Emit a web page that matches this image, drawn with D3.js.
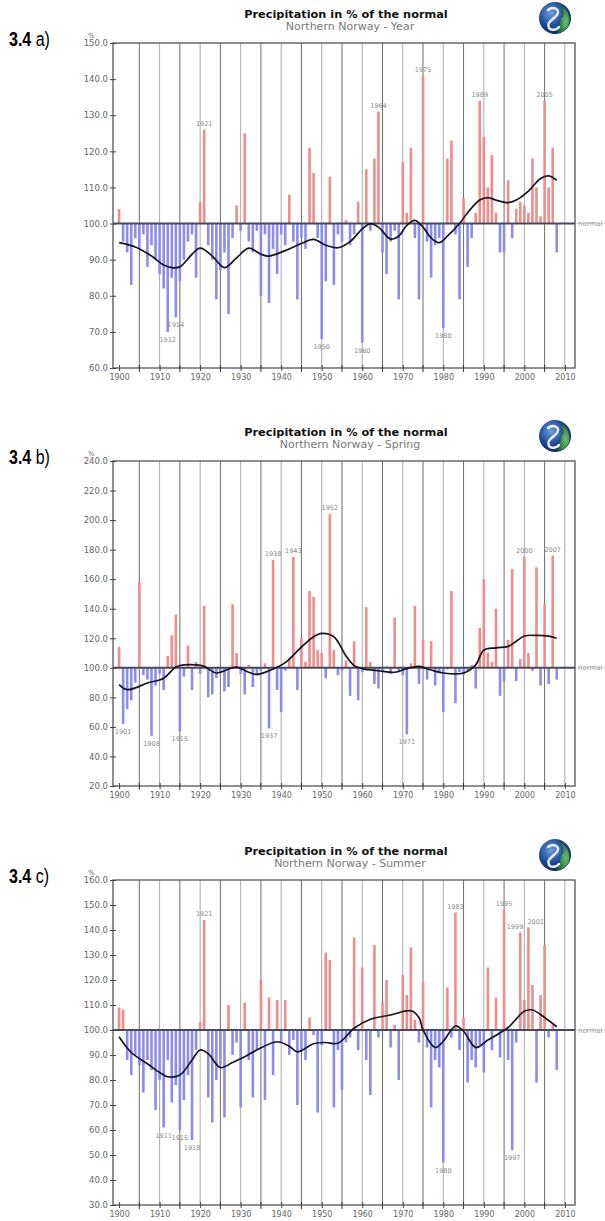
<!DOCTYPE html>
<html><head><meta charset="utf-8">
<script src="https://cdn.jsdelivr.net/npm/d3@7"></script>
<style>body{margin:0;background:#fff}svg{display:block}</style>
</head><body>
<svg id="chart" width="605" height="1221"></svg>
<script>
// ---------------- DATA ----------------
const years = d3.range(1900, 2009);

const yearValues = [
104,95,92,83,96,93,97,88,94,90,
86,82,70,85,74,84,90,95,97,85,
106,126,94,90,79,87,92,75,96,105,
98,125,95,92,98,80,97,78,93,86,
97,94,108,95,79,96,93,121,114,96,
68,84,113,83,97,95,101,94,97,106,
67,115,98,118,131,92,86,95,98,79,
117,103,121,96,79,141,95,85,94,96,
71,118,123,97,79,107,88,96,103,134,
124,110,119,103,92,92,112,96,104,106,
105,103,118,110,102,134,110,121,92];

const springValues = [
114,62,72,78,90,158,95,92,54,88,
96,85,108,122,136,57,94,115,85,104,
96,142,80,82,93,97,84,87,143,110,
96,82,102,87,95,98,103,59,173,85,
70,98,106,175,85,120,104,152,148,112,
110,93,204,112,95,98,105,81,118,78,
97,141,104,89,86,98,101,96,134,97,
95,55,103,142,89,119,92,118,88,97,
70,99,152,76,97,95,98,102,86,127,
160,110,104,140,81,91,119,167,91,106,
175,110,98,168,88,143,89,176,92];

const summerValues = [
109,108,88,82,90,86,75,88,84,68,
80,61,88,71,78,60,72,82,56,92,
103,144,73,63,80,86,65,110,90,95,
69,111,88,73,92,120,72,113,82,112,
95,112,90,96,70,92,88,105,98,67,
94,131,128,69,92,76,95,97,137,92,
125,88,74,134,97,111,120,93,102,80,
122,114,133,104,95,119,93,69,88,85,
47,117,97,147,92,105,79,88,85,94,
83,125,92,113,89,148,88,52,95,139,
112,141,118,79,114,134,97,102,84];

// smoothed curves: [year, value]
const yearSmooth = [[1900,94.7],[1904,93.5],[1908,91],[1911,88.5],[1913,87.8],[1915,88],[1918,91.5],[1920,93.2],[1923,91],[1926,87.8],[1929,90.5],[1932,93.2],[1935,91.5],[1937,91],[1941,92.5],[1945,94.5],[1948,95.6],[1951,94],[1954,93.3],[1957,95],[1960,98.5],[1962,100],[1964,99],[1967,95.7],[1969,96.5],[1971,99.5],[1973,100.9],[1975,99],[1977,96],[1979,94.7],[1981,96.5],[1984,100],[1986,103],[1989,106.5],[1991,107.2],[1993,106.5],[1996,105.8],[1998,106.5],[2001,109],[2004,112.5],[2006,113.2],[2008,112]];
const springSmooth = [[1900,88.6],[1902,85.2],[1907,89.7],[1911,93],[1914,100.5],[1916,102],[1919,102],[1921,101],[1924,96.5],[1927,99],[1929,100.5],[1932,97],[1934,95.5],[1937,98],[1939,100.5],[1941,103.5],[1945,114],[1948,121],[1950,123.3],[1953,121],[1956,108],[1958,101.5],[1960,99.5],[1964,98],[1968,97],[1971,99.5],[1974,101],[1977,98.5],[1980,96.5],[1985,96.5],[1988,102],[1990,112],[1993,113.5],[1996,114.5],[1998,118],[2000,121.5],[2003,122],[2006,121.5],[2008,120]];
const summerSmooth = [[1900,97.3],[1903,91],[1907,86.5],[1910,83],[1912,81.3],[1915,82],[1918,88],[1920,92],[1922,90.5],[1925,85],[1928,87],[1931,89.3],[1934,92],[1939,95.3],[1942,93.5],[1944,91.3],[1948,94.5],[1951,95],[1954,94.7],[1958,100.7],[1962,104.3],[1967,106],[1972,107.7],[1974,105],[1975,100],[1978,93],[1980,95.5],[1983,101.6],[1985,99.5],[1988,93],[1991,96],[1996,101],[2000,107.5],[2002,108],[2005,105],[2008,101.3]];

// tick labels
const xTickLabels = [1900,1910,1920,1930,1940,1950,1960,1970,1980,1990,2000,2010];
const yearTicks   = [60,70,80,90,100,110,120,130,140,150];
const springTicks = [20,40,60,80,100,120,140,160,180,200,220,240];
const summerTicks = [30,40,50,60,70,80,90,100,110,120,130,140,150,160];

// annotated extreme years
const yearTop = [1921,1964,1975,1989,2005], yearBottom = [1912,1914,1950,1960,1980];
const springTop = [1938,1943,1952,2000,2007], springBottom = [1901,1908,1915,1937,1971];
const summerTop = [1921,1983,1995,1999,2001], summerBottom = [1911,1915,1918,1980,1997];

const titleText = "Precipitation in % of the normal";
const subtitles = ["Northern Norway - Year","Northern Norway - Spring","Northern Norway - Summer"];
const tags = ["a)","b)","c)"];

// ---------------- DRAW ----------------
const svg = d3.select("#chart");
const defs = svg.append("defs");
const rg = defs.append("radialGradient").attr("id","globe").attr("cx","38%").attr("cy","35%").attr("r","70%");
rg.append("stop").attr("offset","0").attr("stop-color","#6f9fdc");
rg.append("stop").attr("offset","0.55").attr("stop-color","#1e4c98");
rg.append("stop").attr("offset","1").attr("stop-color","#0d2456");
const gg = defs.append("radialGradient").attr("id","green").attr("cx","70%").attr("cy","60%").attr("r","60%");
gg.append("stop").attr("offset","0").attr("stop-color","#6cc070");
gg.append("stop").attr("offset","1").attr("stop-color","#1f6a33");

const X0 = 113, X1 = 575, H = 325;
const x = d3.scaleLinear().domain([1898.5, 2012.5]).range([X0, X1]);

const panels = [
  {off:0,   values:yearValues,   smooth:yearSmooth,   ticks:yearTicks,   dom:[60,150], top:yearTop,   bottom:yearBottom},
  {off:418, values:springValues, smooth:springSmooth, ticks:springTicks, dom:[20,240], top:springTop, bottom:springBottom},
  {off:837, values:summerValues, smooth:summerSmooth, ticks:summerTicks, dom:[30,160], top:summerTop, bottom:summerBottom}
];

panels.forEach((p, i) => {
  const T = 43 + p.off, B = T + H;
  const y = d3.scaleLinear().domain(p.dom).range([B, T]);
  const g = svg.append("g");

  // title
  g.append("text").attr("x", 346).attr("y", 18 + p.off).attr("text-anchor","middle")
    .attr("font-family","DejaVu Sans").attr("font-weight","bold").attr("font-size",11.3)
    .attr("fill","#111").text(titleText);
  g.append("text").attr("x", 350).attr("y", 30 + p.off).attr("text-anchor","middle")
    .attr("font-family","DejaVu Sans").attr("font-size",11).attr("fill","#777").text(subtitles[i]);

  // logo
  const lg = g.append("g").attr("transform", `translate(555,${18 + p.off})`);
  lg.append("circle").attr("r",16).attr("fill","url(#globe)");
  lg.append("path").attr("d","M3,-14 C12,-10 16,-2 14,6 C12,12 6,15 2,15 C6,8 4,2 8,-2 C10,-6 6,-10 3,-14Z").attr("fill","url(#green)");
  lg.append("path").attr("d","M-7,-8 C-2,-12 6,-9 2,-3 C-2,2 -9,4 -6,10 C-4,13 2,12 4,9")
    .attr("fill","none").attr("stroke","#e8f0ff").attr("stroke-width",2.4).attr("stroke-linecap","round");

  // tag "3.4 a)" (condensed look)
  const tg = g.append("text").attr("transform", `translate(9,${T + 3}) scale(0.8,1)`)
    .attr("font-family","'Liberation Sans Narrow','Liberation Sans','Arial'")
    .attr("font-size",20).attr("fill","#000");
  tg.append("tspan").attr("font-weight","bold").text("3.4");
  tg.append("tspan").text(" " + tags[i]);

  // vertical grid every 5 years (mid-decade lines darker)
  const grid = d3.range(1905, 2011, 5);
  g.append("g").selectAll("line").data(grid).join("line")
    .attr("x1", d => x(d)).attr("x2", d => x(d)).attr("y1", T).attr("y2", B)
    .attr("stroke", d => d % 10 === 0 ? "#a0a0a0" : "#5c5c5c").attr("stroke-width", 0.9);

  // bars
  const data = years.map((yr, k) => ({yr, v: p.values[k]}));
  g.append("g").selectAll("rect").data(data).join("rect")
    .attr("x", d => x(d.yr) - 1.3).attr("width", 2.6)
    .attr("y", d => Math.min(y(d.v), y(100)))
    .attr("height", d => Math.abs(y(d.v) - y(100)))
    .attr("fill", d => d.v >= 100 ? "#f08c8c" : "#8c8cef");

  // baseline (normal)
  g.append("line").attr("x1", X0).attr("x2", X1).attr("y1", y(100)).attr("y2", y(100))
    .attr("stroke","#474a5c").attr("stroke-width",2);
  g.append("line").attr("x1", X1).attr("x2", 605).attr("y1", y(100)).attr("y2", y(100))
    .attr("stroke","#d8d8d8").attr("stroke-width",1);
  g.append("text").attr("x", 578).attr("y", y(100) + 2.5)
    .attr("font-family","DejaVu Sans").attr("font-size",7).attr("fill","#999").text("normal");

  // smooth line
  const line = d3.line().x(d => x(d[0])).y(d => y(d[1])).curve(d3.curveCatmullRom.alpha(0.5));
  g.append("path").datum(p.smooth).attr("d", line).attr("fill","none")
    .attr("stroke","#151520").attr("stroke-width",1.7);

  // frame
  g.append("rect").attr("x", X0).attr("y", T).attr("width", X1 - X0).attr("height", H)
    .attr("fill","none").attr("stroke","#555").attr("stroke-width",1.3);

  // y axis
  const ya = g.append("g").attr("transform", `translate(${X0},0)`)
    .call(d3.axisLeft(y).tickValues(p.ticks).tickFormat(d3.format(".1f")).tickSize(3).tickPadding(2));
  ya.select(".domain").remove();
  ya.selectAll(".tick line").attr("x2", 3).attr("x1", -3).attr("stroke","#444");
  ya.selectAll("text").attr("font-family","DejaVu Sans").attr("font-size",8.5).attr("fill","#666");
  g.append("text").attr("x", 88).attr("y", T - 5).attr("font-family","DejaVu Sans")
    .attr("font-size",7).attr("fill","#666").text("%");

  // x axis
  const xa = g.append("g").attr("transform", `translate(0,${B})`)
    .call(d3.axisBottom(x).tickValues(xTickLabels).tickFormat(d3.format("d")).tickSize(3).tickPadding(3));
  xa.select(".domain").remove();
  xa.selectAll(".tick line").attr("y1", -3).attr("y2", 3).attr("stroke","#444");
  xa.selectAll("text").attr("font-family","DejaVu Sans").attr("font-size",8).attr("fill","#666");
  g.append("g").selectAll("line").data(d3.range(1905, 2011, 10)).join("line")
    .attr("x1", d => x(d)).attr("x2", d => x(d)).attr("y1", B - 3).attr("y2", B + 4)
    .attr("stroke","#333");

  // annotations (close neighbours are pushed apart)
  const valOf = yr => p.values[years.indexOf(yr)];
  const anchorOf = (arr, d) => {
    const k = arr.indexOf(d);
    if (k > 0 && d - arr[k-1] <= 2) return "start";
    if (k < arr.length - 1 && arr[k+1] - d <= 2) return "end";
    return "middle";
  };
  const dxOf = a => a === "start" ? -1 : a === "end" ? 3 : 0;
  g.append("g").selectAll("text").data(p.top).join("text")
    .attr("text-anchor", d => anchorOf(p.top, d))
    .attr("x", d => x(d) + dxOf(anchorOf(p.top, d))).attr("y", d => y(valOf(d)) - 4)
    .attr("font-family","DejaVu Sans").attr("font-size",6.5).attr("fill","#888").text(d => d);
  g.append("g").selectAll("text").data(p.bottom).join("text")
    .attr("text-anchor","middle")
    .attr("x", d => x(d)).attr("y", d => y(valOf(d)) + 10)
    .attr("font-family","DejaVu Sans").attr("font-size",6.5).attr("fill","#888").text(d => d);
});
</script>
</body></html>
